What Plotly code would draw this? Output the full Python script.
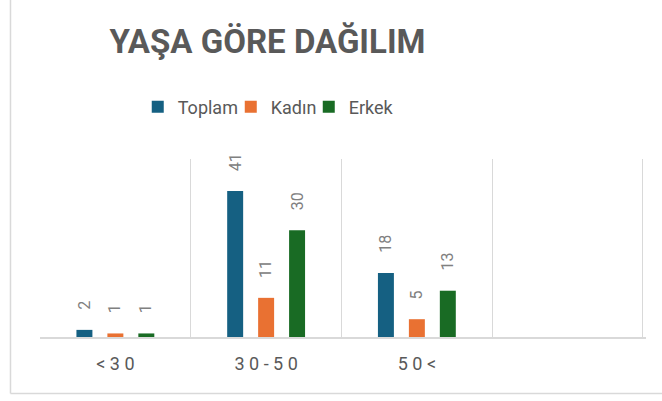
import plotly.graph_objects as go

categories = ["<30", "30-50", "50<", " "]
toplam = [2, 41, 18, None]
kadin = [1, 11, 5, None]
erkek = [1, 30, 13, None]
series_names = ["Toplam", "Kadın", "Erkek"]
colors = ["#156082", "#E97132", "#196B24"]
title_text = "YAŞA GÖRE DAĞILIM"

FONT = "Roboto"
GRAY = "#595959"
LABEL_GRAY = "#808080"
GRID = "#d9d9d9"

fig = go.Figure()
series = [toplam, kadin, erkek]
legend_ids = ["legend", "legend2", "legend3"]
legend_x = [0.1613, 0.3148, 0.4435]
for name, vals, col, lid in zip(series_names, series, colors, legend_ids):
    fig.add_trace(go.Bar(x=categories, y=vals, name=name, marker_color=col,
                         marker_line_width=0, legend=lid, showlegend=True))

# rotated value labels above bars
offsets = [-31, 0, 31]
annotations = []
for vals, off in zip(series, offsets):
    for c, v in zip(categories, vals):
        if v is None:
            continue
        annotations.append(dict(x=c, y=v, xref="x", yref="y", text=str(v),
                                showarrow=False, textangle=-90, xshift=off,
                                yshift=18, yanchor="bottom", xanchor="center",
                                font=dict(family=FONT, size=16, color=LABEL_GRAY)))

tick_text = [" ".join(c) for c in categories]

legend_common = dict(orientation="h", xanchor="left", y=1.292, yanchor="middle",
                     font=dict(family=FONT, size=18, color=GRAY),
                     bgcolor="rgba(0,0,0,0)")

fig.update_layout(
    width=662, height=401,
    showlegend=True,
    margin=dict(l=40, r=16, t=159, b=64),
    paper_bgcolor="white", plot_bgcolor="white",
    barmode="group", bargap=0.384, bargroupgap=0.484,
    title=dict(text="<b>" + title_text + "</b>", x=0.3754, xref="paper",
               xanchor="center", y=1 - 41 / 401, yref="container", yanchor="middle",
               font=dict(family=FONT, size=33, color=GRAY)),
    legend=dict(x=legend_x[0], **legend_common),
    legend2=dict(x=legend_x[1], **legend_common),
    legend3=dict(x=legend_x[2], **legend_common),
    xaxis=dict(type="category", tickson="boundaries", showgrid=True, gridcolor=GRID,
               gridwidth=1, showline=True, linecolor=GRID, linewidth=1.5,
               ticks="", tickvals=categories, ticktext=tick_text,
               tickfont=dict(family=FONT, size=18, color=GRAY),
               ticklabelstandoff=10, range=[-0.5, 3.52], zeroline=False),
    yaxis=dict(range=[0, 50], visible=False, showgrid=False),
    annotations=annotations,
    shapes=[
        dict(type="line", xref="paper", yref="paper", x0=-0.0487, x1=-0.0487,
             y0=-0.3174, y1=1.95, line=dict(color=GRID, width=1.5)),
        dict(type="line", xref="paper", yref="paper", x0=-0.0487, x1=1.05,
             y0=-0.3174, y1=-0.3174, line=dict(color=GRID, width=1.5)),
    ],
)

fig.write_html("out.html", config={"displayModeBar": False},
               post_script="document.body.style.margin='0';")
